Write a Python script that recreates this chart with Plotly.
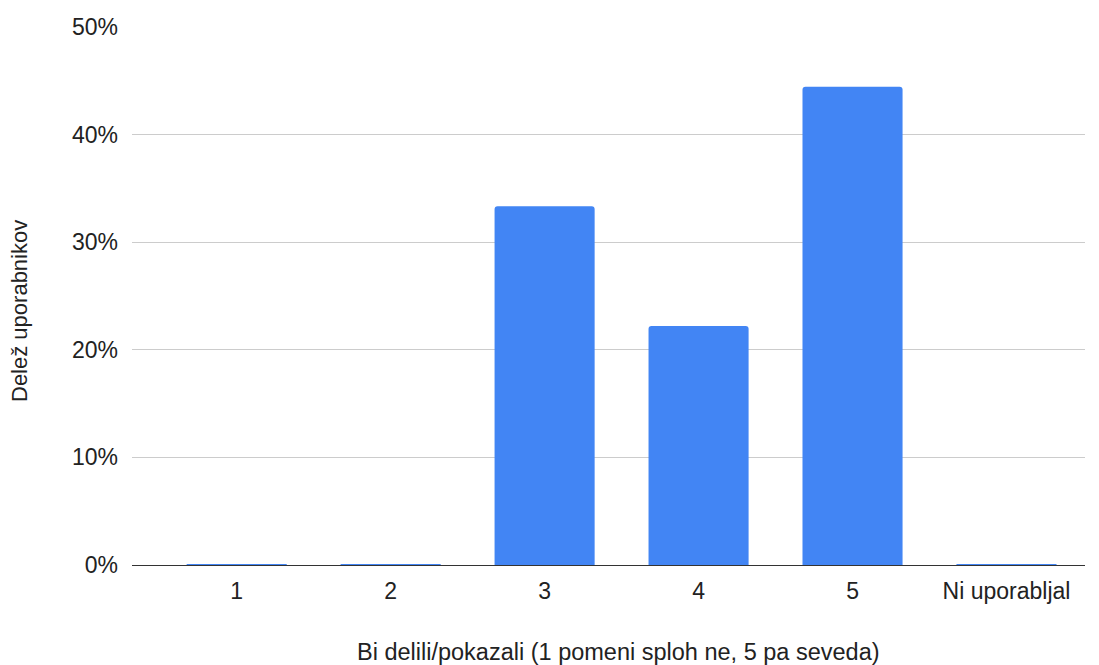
import plotly.graph_objects as go

# Survey answers: share of users per rating
categories = ["1", "2", "3", "4", "5", "Ni uporabljal"]
shares = [0.0, 0.0, 3 / 9, 2 / 9, 4 / 9, 0.0]
y_ticks = [0, 0.1, 0.2, 0.3, 0.4, 0.5]
y_tick_labels = ["0%", "10%", "20%", "30%", "40%", "50%"]

BLUE = "#4285F4"
FONT = "Liberation Sans, Arial, sans-serif"
TEXT = "#222222"
BAR_WIDTH = 0.65

fig = go.Figure(
    go.Bar(
        x=categories,
        y=shares,
        marker=dict(color=BLUE, line=dict(width=0)),
        width=BAR_WIDTH,
        hovertemplate="%{x}: %{y:.1%}<extra></extra>",
    )
)

# Empty categories are shown as a thin baseline stroke
for i, v in enumerate(shares):
    if v == 0:
        fig.add_shape(
            type="line",
            xref="x", yref="y",
            x0=i - BAR_WIDTH / 2, x1=i + BAR_WIDTH / 2,
            y0=v, y1=v,
            line=dict(color=BLUE, width=2),
            layer="above",
        )

fig.update_layout(
    width=1099,
    height=665,
    margin=dict(l=132, r=14, t=27, b=100),
    paper_bgcolor="white",
    plot_bgcolor="white",
    font=dict(family=FONT, size=23, color=TEXT),
    showlegend=False,
    barcornerradius=3,
    xaxis=dict(
        type="category",
        range=[-0.68, 5.51],
        showgrid=False,
        showline=True,
        linecolor="#333333",
        linewidth=1.3,
        ticks="",
        ticklabelstandoff=5,
        tickfont=dict(family=FONT, size=23, color=TEXT),
    ),
    yaxis=dict(
        range=[0, 0.5],
        tickvals=y_ticks,
        ticktext=y_tick_labels,
        showgrid=True,
        gridcolor="#cccccc",
        gridwidth=1.2,
        zeroline=False,
        showline=False,
        ticks="",
        ticklabelstandoff=13,
        tickfont=dict(family=FONT, size=23, color=TEXT),
    ),
    annotations=[
        dict(
            text="Bi delili/pokazali (1 pomeni sploh ne, 5 pa seveda)",
            xref="paper", yref="paper",
            x=(618 - 132) / 953, y=(565 - 652) / 538,
            xanchor="center", yanchor="middle",
            showarrow=False,
            font=dict(family=FONT, size=23.5, color=TEXT),
        ),
        dict(
            text="Delež uporabnikov",
            xref="paper", yref="paper",
            x=(20 - 132) / 953, y=(565 - 311) / 538,
            xanchor="center", yanchor="middle",
            textangle=-90,
            showarrow=False,
            font=dict(family=FONT, size=22, color=TEXT),
        ),
    ],
)

fig.write_html("out.html")
